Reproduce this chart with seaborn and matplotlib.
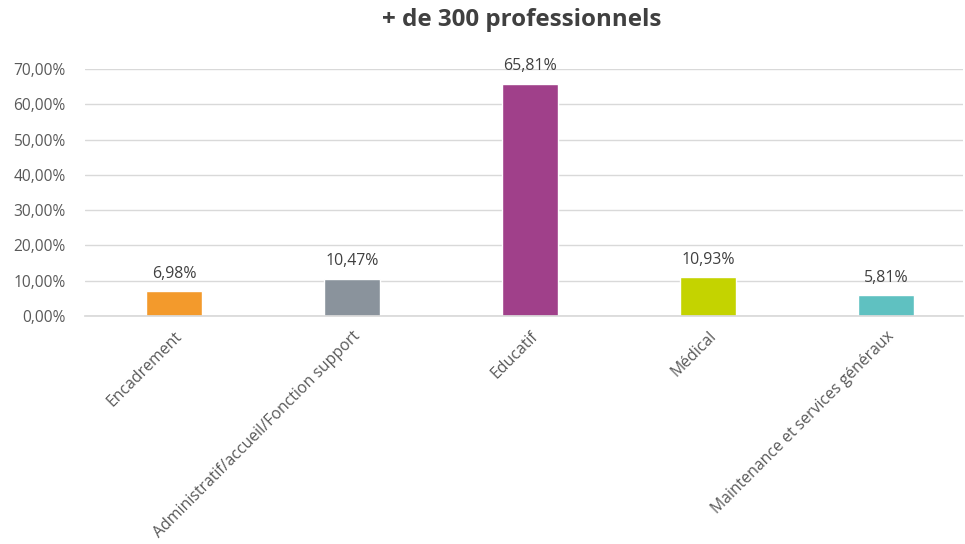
import matplotlib
matplotlib.use("Agg")
import matplotlib.pyplot as plt
import seaborn as sns
import pandas as pd

categories = ["Encadrement", "Administratif/accueil/Fonction support", "Educatif",
              "Médical", "Maintenance et services généraux"]
values = [6.98, 10.47, 65.81, 10.93, 5.81]
colors = ["#F39A2C", "#8A939C", "#A0408A", "#C4D300", "#5FC1C1"]
yticks = [0, 10, 20, 30, 40, 50, 60, 70]
title = "+ de 300 professionnels"

sns.set_theme(style="white")
plt.rcParams["font.family"] = ["Open Sans", "DejaVu Sans"]

df = pd.DataFrame({"cat": categories, "val": values})

fig = plt.figure(figsize=(9.65, 5.44), dpi=100)
ax = fig.add_axes([85 / 965, 1 - 316 / 544, (963 - 85) / 965, (316 - 69) / 544])

sns.barplot(data=df, x="cat", y="val", hue="cat", palette=colors, legend=False,
            width=0.315, ax=ax, saturation=1)

ax.set_ylim(0, 70)
ax.set_xlim(-0.5, 4.43)
ax.set_yticks(yticks)
ax.set_yticklabels([f"{v:.2f}".replace(".", ",") + "%" for v in yticks],
                   color="#595959", fontsize=11.2)
ax.yaxis.grid(True, color="#D9D9D9", linewidth=1)
ax.set_axisbelow(True)
for s in ["top", "right", "left"]:
    ax.spines[s].set_visible(False)
ax.spines["bottom"].set_color("#D9D9D9")
ax.tick_params(axis="y", length=0, pad=14)
ax.tick_params(axis="x", length=0, pad=9)
ax.set_xlabel("")
ax.set_ylabel("")
ax.set_xticks(range(len(categories)))
ax.set_xticklabels(categories, rotation=45, ha="right", rotation_mode="anchor",
                   color="#595959", fontsize=11.4)

for i, v in enumerate(values):
    ax.annotate(f"{v:.2f}".replace(".", ",") + "%", (i, v), xytext=(0, 7),
                textcoords="offset points", ha="center", va="bottom",
                color="#404040", fontsize=11.4)

fig.text(522 / 965, 1 - 20 / 544, title, ha="center", va="center",
         fontsize=17.4, fontweight="bold", color="#404040")

fig.savefig("out.png", dpi=100, facecolor="white")
